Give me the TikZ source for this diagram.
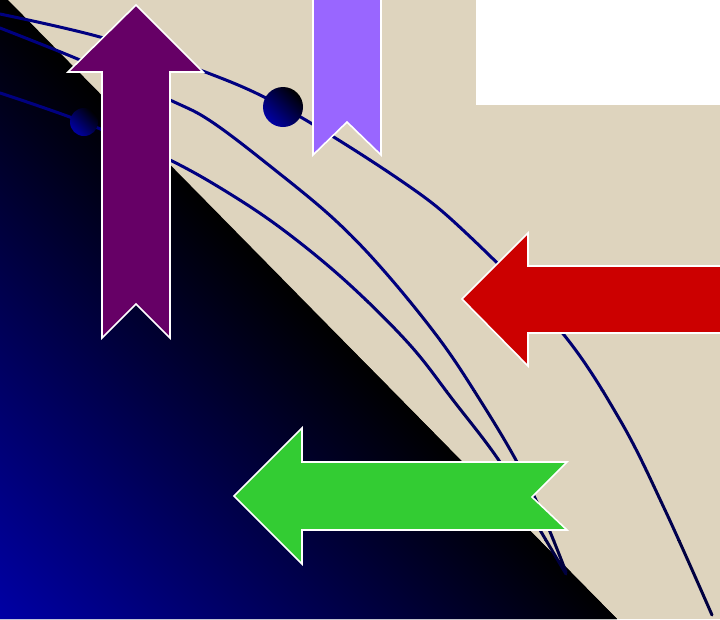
\documentclass[tikz,border=0pt]{standalone}
\usetikzlibrary{calc}
\definecolor{beige}{RGB}{222,212,190}
\definecolor{deepblue}{RGB}{0,0,165}
\definecolor{plum}{RGB}{102,0,102}
\definecolor{lavender}{RGB}{153,102,255}
\definecolor{redarrow}{RGB}{204,0,0}
\definecolor{greenarrow}{RGB}{51,204,51}
\tikzset{
  shapeoutline/.style={draw=white, line width=1.6pt, line join=miter},
  curveline/.style={line width=3pt, line cap=round},
  dotshade/.style={bottom color=deepblue, top color=black, shading angle=-45},
}
\newcommand\drawcurves[1]{%
  \draw[curveline, draw=#1] plot[smooth, tension=0.6] coordinates {(0,14) (100,37) (200,70) (283,107) (400,180) (465,232) (560,330) (620,420) (665,510) (712,615)};
  \draw[curveline, draw=#1] plot[smooth, tension=0.6] coordinates {(0,28) (80,60) (170,100) (212,122) (275,170) (335,220) (385,272) (440,340) (480,400) (517,462) (545,520) (566,572)};
  \draw[curveline, draw=#1] plot[smooth, tension=0.6] coordinates {(0,93) (83,122) (170,160) (235,197) (290,235) (350,285) (410,345) (453,400) (500,462) (540,530) (566,574)};
}
\begin{document}
\begin{tikzpicture}[x=1pt,y=-1pt]
\useasboundingbox (0,0) rectangle (720,619);
% background
\fill[beige] (0,0) rectangle (720,619);
\fill[white] (476,0) rectangle (720,105);
% triangle with corner glow
\fill[black] (0,0) -- (8,0) -- (617,619) -- (0,619) -- cycle;
\begin{scope}
  \clip (0,0) -- (8,0) -- (617,619) -- (0,619) -- cycle;
  \shade[transform canvas={rotate around={-45:(0,619)}}, bottom color=deepblue, middle color={rgb,255:red,0;green,0;blue,70}, top color=black]
    (-700,619) rectangle (700,180);
\end{scope}
% curves, darker towards the bottom
\foreach \ya/\yb/\cv in {-5/300/128, 300/390/112, 390/470/96, 470/540/80, 540/625/64}{
  \begin{scope}
    \definecolor{bandcol}{RGB}{0,0,\cv}
    \clip (-10,\ya) rectangle (730,\yb);
    \drawcurves{bandcol}
  \end{scope}
}
% dots
\shade[dotshade] (283,107) circle (20);
\shade[dotshade] (84,122) circle (14);
% purple up arrow
\path[fill=plum, shapeoutline] (136,5) -- (203,72) -- (170,72) -- (170,338) -- (136,304) -- (102,338) -- (102,72) -- (68,72) -- cycle;
% lavender banner
\path[fill=lavender, shapeoutline] (313,-5) -- (381,-5) -- (381,155) -- (347,122) -- (313,155) -- cycle;
% red arrow
\path[fill=redarrow, shapeoutline] (462,299) -- (528,233) -- (528,266) -- (725,266) -- (725,333) -- (528,333) -- (528,366) -- cycle;
% green arrow
\path[fill=greenarrow, shapeoutline] (234,496) -- (302,428) -- (302,462) -- (567,462) -- (532,497) -- (567,530) -- (302,530) -- (302,564) -- cycle;
\end{tikzpicture}
\end{document}
